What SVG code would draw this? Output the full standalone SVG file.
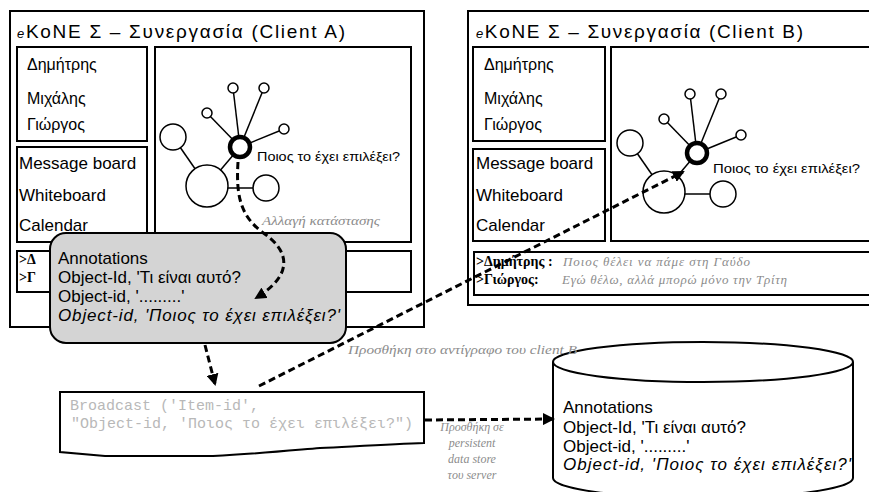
<svg xmlns="http://www.w3.org/2000/svg" xmlns:xlink="http://www.w3.org/1999/xlink" width="869" height="492" viewBox="0 0 869 492">
<defs>
<style>
.frame{fill:#fff;stroke:#000;stroke-width:2}
.ui{font-family:"Liberation Sans",Arial,sans-serif;fill:#000}
.title{font-size:19px}
.name{font-size:16px}
.tool{font-size:17px}
.ann{font-size:17px}
.sel{font-size:13px}
.note{font-family:"Liberation Serif","DejaVu Serif","Times New Roman",serif;font-style:italic;fill:#8c8c8c;font-size:12px}
.chatname{font-family:"Liberation Serif","Times New Roman",serif;font-weight:bold;font-size:14px;fill:#000}
.chatmsg{font-family:"Liberation Serif","Times New Roman",serif;font-style:italic;font-size:13px;fill:#8c8c8c}
.mono{font-family:"Liberation Mono","Courier New",monospace;font-size:15px;fill:#b8b8b8}
.edge{fill:none;stroke:#000;stroke-width:3;stroke-dasharray:7 4}
.gl{stroke:#000;stroke-width:1.5}
.gc{fill:#fff;stroke:#000;stroke-width:1.5}
</style>
<marker id="ah" markerUnits="userSpaceOnUse" markerWidth="12" markerHeight="12" refX="10" refY="6" orient="auto">
<path d="M0,0 L12,6 L0,12 Z" fill="#000"/>
</marker>
<!-- network sketch drawn around its selected (bold) node at 0,0 -->
<g id="net">
<line class="gl" x1="0" y1="0" x2="-7" y2="-59"/>
<line class="gl" x1="0" y1="0" x2="24" y2="-59"/>
<line class="gl" x1="0" y1="0" x2="-33" y2="-34"/>
<line class="gl" x1="0" y1="0" x2="44" y2="-18"/>
<line class="gl" x1="-67" y1="-10" x2="-33" y2="39"/>
<line class="gl" x1="-33" y1="39" x2="0" y2="0"/>
<line class="gl" x1="-33" y1="41" x2="26" y2="41"/>
<circle class="gc" cx="-7" cy="-59" r="5"/>
<circle class="gc" cx="24" cy="-59" r="5"/>
<circle class="gc" cx="-33" cy="-34" r="5"/>
<circle class="gc" cx="44" cy="-18" r="5"/>
<circle class="gc" cx="-67" cy="-10" r="13"/>
<circle class="gc" cx="-33" cy="39" r="21"/>
<circle class="gc" cx="26" cy="41" r="13"/>
<circle cx="0" cy="0" r="10" fill="#fff" stroke="#000" stroke-width="4.5"/>
</g>
</defs>

<rect width="869" height="492" fill="#fff"/>

<!-- Client A window -->
<g id="client-a">
<rect class="frame" x="10" y="11" width="414" height="316"/>
<text class="ui title" x="17" y="38" textLength="328" lengthAdjust="spacing"><tspan font-size="13" font-style="italic">e</tspan>KoNE Σ – Συνεργασία (Client A)</text>
<rect class="frame" x="17" y="47" width="130" height="94"/>
<text class="ui name" x="27" y="70">Δημήτρης</text>
<text class="ui name" x="27" y="104">Μιχάλης</text>
<text class="ui name" x="27" y="130">Γιώργος</text>
<rect class="frame" x="17" y="147" width="130" height="95"/>
<text class="ui tool" x="19" y="169">Message board</text>
<text class="ui tool" x="19" y="201">Whiteboard</text>
<text class="ui tool" x="19" y="231">Calendar</text>
<rect class="frame" x="155" y="47" width="256" height="195"/>
<use xlink:href="#net" x="240" y="147"/>
<text class="ui sel" x="257" y="161" textLength="143" lengthAdjust="spacingAndGlyphs">Ποιος το έχει επιλέξει?</text>
<text class="note" x="262" y="225" textLength="118" lengthAdjust="spacingAndGlyphs">Αλλαγή κατάστασης</text>
<rect class="frame" x="17" y="251" width="394" height="41"/>
<text class="chatname" x="19" y="264">&gt;Δ</text>
<text class="chatname" x="19" y="282">&gt;Γ</text>
</g>

<!-- Client B window -->
<g id="client-b">
<rect class="frame" x="468" y="11" width="412" height="294"/>
<text class="ui title" x="476" y="38" textLength="327" lengthAdjust="spacing"><tspan font-size="13" font-style="italic">e</tspan>KoNE Σ – Συνεργασία (Client B)</text>
<rect class="frame" x="473" y="47" width="132" height="94"/>
<text class="ui name" x="484" y="70">Δημήτρης</text>
<text class="ui name" x="484" y="104">Μιχάλης</text>
<text class="ui name" x="484" y="130">Γιώργος</text>
<rect class="frame" x="473" y="149" width="132" height="92"/>
<text class="ui tool" x="476" y="169">Message board</text>
<text class="ui tool" x="476" y="201">Whiteboard</text>
<text class="ui tool" x="476" y="231">Calendar</text>
<rect class="frame" x="611" y="47" width="270" height="194"/>
<use xlink:href="#net" x="697" y="153"/>
<text class="ui sel" x="713" y="173" textLength="147" lengthAdjust="spacingAndGlyphs">Ποιος το έχει επιλέξει?</text>
<rect class="frame" x="474" y="252" width="406" height="43"/>
<text class="chatname" x="476" y="266">&gt;Δημήτρης :</text>
<text class="chatmsg" x="563" y="266" textLength="187" lengthAdjust="spacing">Ποιος θέλει να πάμε στη Γαύδο</text>
<text class="chatname" x="476" y="284">&gt;Γιώργος:</text>
<text class="chatmsg" x="562" y="284" textLength="225" lengthAdjust="spacing">Εγώ θέλω, αλλά μπορώ μόνο την Τρίτη</text>
</g>

<!-- annotation list attached to the selected node -->
<g id="annotations-local">
<rect x="50" y="233" width="296" height="110" rx="16" ry="16" fill="#d4d4d4" stroke="#000" stroke-width="2"/>
<text class="ui ann" x="58" y="264">Annotations</text>
<text class="ui ann" x="58" y="283">Object-Id, 'Τι είναι αυτό?</text>
<text class="ui ann" x="58" y="302">Object-id, '.........'</text>
<text class="ui ann" x="58" y="321" font-style="italic" textLength="282" lengthAdjust="spacing">Object-id, 'Ποιος το έχει επιλέξει?'</text>
</g>

<!-- broadcast message -->
<g id="broadcast">
<path d="M60,392 H424 V443 C395,444 360,446 320,448 C285,451 255,454 213,456 L105,456 L60,452 Z" fill="#fff" stroke="#000" stroke-width="2"/>
<text class="mono" x="70" y="410">Broadcast ('Item-id',</text>
<text class="mono" x="71" y="428">"Object-id, 'Ποιος το έχει επιλέξει?")</text>
</g>

<!-- persistent store on the server -->
<g id="server-store">
<path d="M553,362 V478 A150,20 0 0 0 853,478 V362" fill="#fff" stroke="#000" stroke-width="2"/>
<ellipse cx="703" cy="362" rx="150" ry="20" fill="#fff" stroke="#000" stroke-width="2"/>
<text class="ui ann" x="563" y="413">Annotations</text>
<text class="ui ann" x="563" y="433">Object-Id, 'Τι είναι αυτό?</text>
<text class="ui ann" x="563" y="452">Object-id, '.........'</text>
<text class="ui ann" x="563" y="470" font-style="italic" textLength="288" lengthAdjust="spacing">Object-id, 'Ποιος το έχει επιλέξει?'</text>
</g>

<!-- connectors -->
<g id="connectors">
<path class="edge" d="M238,162 C236,195 240,215 262,232 C292,252 292,276 256,298" marker-end="url(#ah)"/>
<path class="edge" d="M205,345 L215,384" marker-end="url(#ah)"/>
<path class="edge" d="M259,386 L683,172" marker-end="url(#ah)"/>
<path class="edge" d="M425,420 L553,419" marker-end="url(#ah)"/>
</g>

<!-- connector labels -->
<g id="labels">
<text class="note" x="348" y="354" textLength="229" lengthAdjust="spacingAndGlyphs">Προσθήκη στο αντίγραφο του client B</text>
<text class="note" text-anchor="middle" x="472" y="431">Προσθήκη σε</text>
<text class="note" text-anchor="middle" x="472" y="447">persistent</text>
<text class="note" text-anchor="middle" x="472" y="463">data store</text>
<text class="note" text-anchor="middle" x="472" y="479">του server</text>
</g>
</svg>
